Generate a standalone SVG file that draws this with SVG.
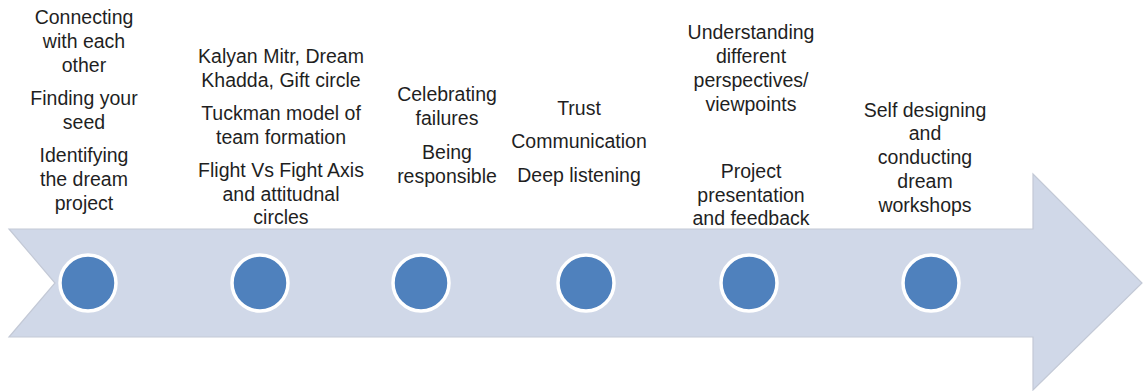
<svg xmlns="http://www.w3.org/2000/svg" width="1144" height="391" viewBox="0 0 1144 391">
<style>
.t{font-family:"Liberation Sans",Arial,sans-serif;font-size:19.5px;fill:#1f1f1f;text-anchor:middle}
.dot{fill:#4F81BD;stroke:#ffffff;stroke-width:3.5}
</style>
<rect width="1144" height="391" fill="#ffffff"/>
<g id="arrow">
<path d="M9,229 L1033,229 L1033,174 L1142,283 L1033,390 L1033,337 L9,337 L55,283 Z" fill="#D0D8E8" stroke="#C3C9D6" stroke-width="1.2"/>
</g>
<g id="connectors"></g>
<g id="node1"><circle class="dot" cx="88" cy="283" r="28"/>
<text class="t" x="84"><tspan x="84" y="24">Connecting</tspan><tspan x="84" y="48">with each</tspan><tspan x="84" y="72">other</tspan><tspan x="84" y="105">Finding your</tspan><tspan x="84" y="129">seed</tspan><tspan x="84" y="162">Identifying</tspan><tspan x="84" y="186">the dream</tspan><tspan x="84" y="210">project</tspan></text></g>
<g id="node2"><circle class="dot" cx="260" cy="283" r="28"/>
<text class="t"><tspan x="281" y="63">Kalyan Mitr, Dream</tspan><tspan x="281" y="87">Khadda, Gift circle</tspan><tspan x="281" y="120">Tuckman model of</tspan><tspan x="281" y="144">team formation</tspan><tspan x="281" y="177">Flight Vs Fight Axis</tspan><tspan x="281" y="201">and attitudnal</tspan><tspan x="281" y="224">circles</tspan></text></g>
<g id="node3"><circle class="dot" cx="421" cy="283" r="28"/>
<text class="t"><tspan x="447" y="101">Celebrating</tspan><tspan x="447" y="125">failures</tspan><tspan x="447" y="159">Being</tspan><tspan x="447" y="183">responsible</tspan></text></g>
<g id="node4"><circle class="dot" cx="586" cy="283" r="28"/>
<text class="t"><tspan x="579" y="115">Trust</tspan><tspan x="579" y="148">Communication</tspan><tspan x="579" y="182">Deep listening</tspan></text></g>
<g id="node5"><circle class="dot" cx="749" cy="283" r="28"/>
<text class="t"><tspan x="751" y="39">Understanding</tspan><tspan x="751" y="63">different</tspan><tspan x="751" y="87">perspectives/</tspan><tspan x="751" y="111">viewpoints</tspan><tspan x="751" y="178">Project</tspan><tspan x="751" y="202">presentation</tspan><tspan x="751" y="225">and feedback</tspan></text></g>
<g id="node6"><circle class="dot" cx="931" cy="283" r="28"/>
<text class="t"><tspan x="925" y="117">Self designing</tspan><tspan x="925" y="140">and</tspan><tspan x="925" y="164">conducting</tspan><tspan x="925" y="188">dream</tspan><tspan x="925" y="212">workshops</tspan></text></g>
</svg>
